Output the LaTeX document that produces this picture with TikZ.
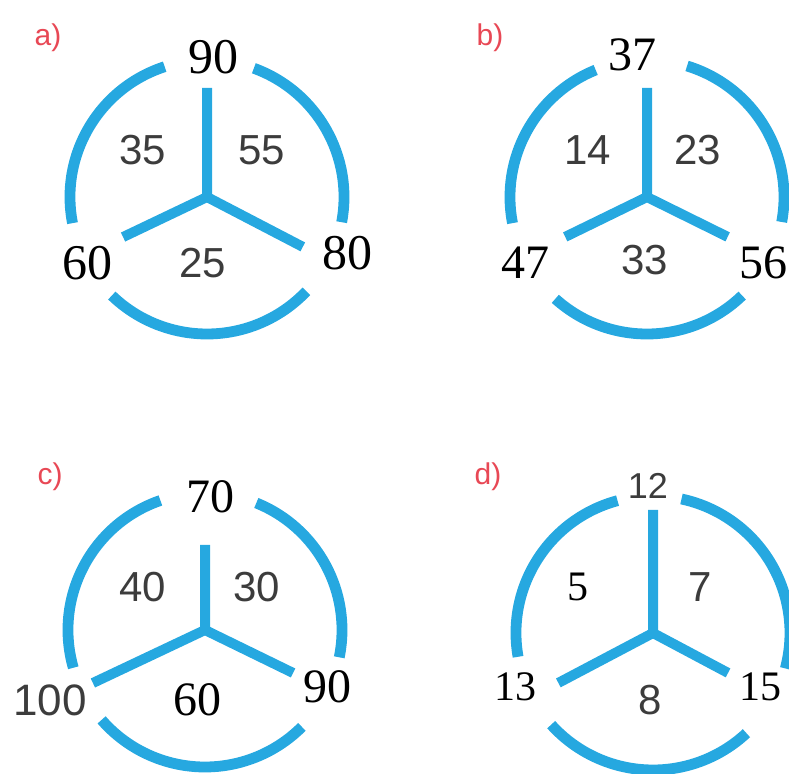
\documentclass[tikz,border=0pt]{standalone}
\usepackage{fontspec}
\setmainfont{Liberation Serif}
\setsansfont{Liberation Sans}
\usepackage{tikz}
\definecolor{rimblue}{RGB}{38,168,224}
\definecolor{tag}{RGB}{232,72,85}
\definecolor{sumgray}{RGB}{60,60,60}

\begin{document}
\begin{tikzpicture}[x=0.5pt,y=0.5pt, rim/.style={rimblue,line width=5.4pt}, spoke/.style={rimblue,line width=5pt}, num/.style={font=\fontsize{25}{25}\selectfont,inner sep=1pt}, sum/.style={font=\sffamily\fontsize{21}{21}\selectfont,text=sumgray,inner sep=1pt}, tagl/.style={font=\sffamily\fontsize{15}{15}\selectfont,text=tag}]
\useasboundingbox (0,0) rectangle (789,773);
% a)
\coordinate (a-c) at (207,576);
\node[tagl] (a-tag) at (48,735) {a)};
\draw[rim] (a-c) ++(108:137) arc[start angle=108,end angle=191,radius=137] (a-c) ++(226:137) arc[start angle=226,end angle=316.5,radius=137] (a-c) ++(349.4:137) arc[start angle=349.4,end angle=430,radius=137];
\path (a-c) ++(90:109) coordinate (a-s1) (a-c) ++(205.5:93) coordinate (a-s2) (a-c) ++(-27.5:108) coordinate (a-s3);
\draw[spoke] (a-c)--(a-s1) (a-c)--(a-s2) (a-c)--(a-s3);
\node[num] (a-top) at (213,716) {90};
\node[num] (a-left) at (87,510) {60};
\node[num] (a-right) at (347,520) {80};
\node[sum] (a-tl) at (143,623) {35};
\node[sum] (a-tr) at (262,623) {55};
\node[sum] (a-bot) at (203,510) {25};
% b)
\coordinate (b-c) at (647,576);
\node[tagl] (b-tag) at (490,735) {b)};
\draw[rim] (b-c) ++(112:137) arc[start angle=112,end angle=191,radius=137] (b-c) ++(228:137) arc[start angle=228,end angle=314,radius=137] (b-c) ++(349.5:137) arc[start angle=349.5,end angle=433,radius=137];
\path (b-c) ++(90:109) coordinate (b-s1) (b-c) ++(206:91) coordinate (b-s2) (b-c) ++(-26.3:90) coordinate (b-s3);
\draw[spoke] (b-c)--(b-s1) (b-c)--(b-s2) (b-c)--(b-s3);
\node[num,font=\fontsize{24}{24}\selectfont] (b-top) at (632,718) {37};
\node[num,font=\fontsize{24}{24}\selectfont] (b-left) at (525,510) {47};
\node[num,font=\fontsize{24}{24}\selectfont] (b-right) at (763,510) {56};
\node[sum] (b-tl) at (588,623) {14};
\node[sum] (b-tr) at (698,623) {23};
\node[sum] (b-bot) at (645,513) {33};
% c)
\coordinate (c-c) at (205,143);
\node[tagl] (c-tag) at (50,296) {c)};
\draw[rim] (c-c) ++(109:137) arc[start angle=109,end angle=196,radius=137] (c-c) ++(221:137) arc[start angle=221,end angle=315,radius=137] (c-c) ++(348.5:137) arc[start angle=348.5,end angle=428,radius=137];
\path (c-c) ++(90:85) coordinate (c-s1) (c-c) ++(205.3:124) coordinate (c-s2) (c-c) ++(-26:98) coordinate (c-s3);
\draw[spoke] (c-c)--(c-s1) (c-c)--(c-s2) (c-c)--(c-s3);
\node[num,font=\fontsize{24}{24}\selectfont] (c-top) at (210,276) {70};
\node[sum,font=\sffamily\fontsize{22}{22}\selectfont] (c-left) at (50,73) {100};
\node[num,font=\fontsize{24}{24}\selectfont] (c-right) at (327,86) {90};
\node[sum] (c-tl) at (143,186) {40};
\node[sum] (c-tr) at (257,186) {30};
\node[num,font=\fontsize{24}{24}\selectfont] (c-bot) at (197,73) {60};
% d)
\coordinate (d-c) at (653,140);
\node[tagl] (d-tag) at (488,296) {d)};
\draw[rim] (d-c) ++(105:137) arc[start angle=105,end angle=190,radius=137] (d-c) ++(222:137) arc[start angle=222,end angle=313,radius=137] (d-c) ++(345:137) arc[start angle=345,end angle=438,radius=137];
\path (d-c) ++(90:123) coordinate (d-s1) (d-c) ++(207.8:107) coordinate (d-s2) (d-c) ++(-28:85) coordinate (d-s3);
\draw[spoke] (d-c)--(d-s1) (d-c)--(d-s2) (d-c)--(d-s3);
\node[sum,font=\sffamily\fontsize{18}{18}\selectfont] (d-top) at (648,287) {12};
\node[num,font=\fontsize{21}{21}\selectfont] (d-left) at (515,86) {13};
\node[num,font=\fontsize{21}{21}\selectfont] (d-right) at (760,86) {15};
\node[num,font=\fontsize{21}{21}\selectfont] (d-tl) at (578,186) {5};
\node[sum] (d-tr) at (700,186) {7};
\node[sum] (d-bot) at (650,73) {8};
\end{tikzpicture}
\end{document}
